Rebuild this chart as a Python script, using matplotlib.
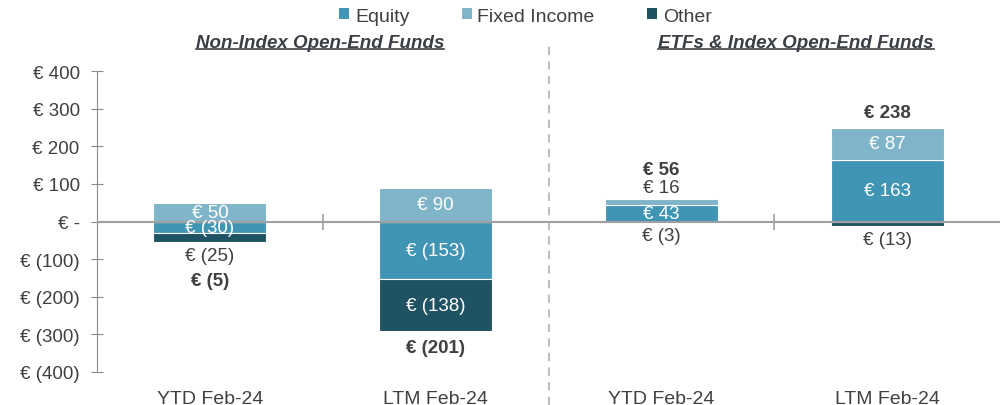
import numpy as np
import matplotlib
matplotlib.use("Agg")
import matplotlib.pyplot as plt
from matplotlib.patches import Patch
from matplotlib.lines import Line2D
import matplotlib.transforms as mtransforms

plt.rcParams['font.family'] = ['Liberation Sans', 'DejaVu Sans']

categories = ["YTD Feb-24", "LTM Feb-24", "YTD Feb-24", "LTM Feb-24"]
groups = ["Non-Index Open-End Funds", "ETFs & Index Open-End Funds"]
equity = [-30, -153, 43, 163]
fixed_income = [50, 90, 16, 87]
other = [-25, -138, -3, -13]
totals = [-5, -201, 56, 238]
yticks = [-400, -300, -200, -100, 0, 100, 200, 300, 400]

series = [("Equity", equity, "#4095B4"),
          ("Fixed Income", fixed_income, "#7FB4C9"),
          ("Other", other, "#1F5262")]

TXT = "#404040"
LBL = 13.5


def eur(v):
    if v == 0:
        return "€ -"
    if v < 0:
        return f"€ ({-v:,.0f})"
    return f"€ {v:,.0f}"


fig = plt.figure(figsize=(10, 4.06), dpi=100)
ax = fig.add_axes([0.097, 0.0813, 0.903, 0.741])

x = np.arange(len(categories))
pos_base = np.zeros(len(categories))
neg_base = np.zeros(len(categories))
has_out_top = [False] * len(categories)
has_out_bot = [False] * len(categories)
outside = []

for name, vals, col in series:
    vals = np.array(vals, dtype=float)
    base = np.where(vals >= 0, pos_base, neg_base)
    ax.bar(x, vals, 0.5, bottom=base, color=col, edgecolor="white",
           linewidth=0.8, zorder=2, label=name)
    for i, v in enumerate(vals):
        if abs(v) >= 30:
            ax.text(x[i], base[i] + v / 2, eur(v), ha="center", va="center",
                    color="white", fontsize=LBL, zorder=4)
        else:
            outside.append((i, v))
    pos_base = pos_base + np.where(vals >= 0, vals, 0)
    neg_base = neg_base + np.where(vals < 0, vals, 0)

# small segments get their label just outside the bar
for i, v in outside:
    if v >= 0:
        ax.annotate(eur(v), (x[i], pos_base[i]), xytext=(0, 8.5),
                    textcoords="offset points", ha="center", va="center",
                    color=TXT, fontsize=LBL)
        has_out_top[i] = True
    else:
        ax.annotate(eur(v), (x[i], neg_base[i]), xytext=(0, -9.5),
                    textcoords="offset points", ha="center", va="center",
                    color=TXT, fontsize=LBL)
        has_out_bot[i] = True

for i, t in enumerate(totals):
    if t >= 0:
        off = 21.5 if has_out_top[i] else 11
        ax.annotate(eur(t), (x[i], pos_base[i]), xytext=(0, off),
                    textcoords="offset points", ha="center", va="center",
                    color=TXT, fontsize=LBL, fontweight="bold")
    else:
        off = -27.5 if has_out_bot[i] else -12
        ax.annotate(eur(t), (x[i], neg_base[i]), xytext=(0, off),
                    textcoords="offset points", ha="center", va="center",
                    color=TXT, fontsize=LBL, fontweight="bold")

ax.set_xlim(-0.5, len(categories) - 0.5)
ax.set_ylim(-400, 400)
ax.set_yticks(yticks)
ax.set_yticklabels([eur(v) for v in yticks])
ax.set_xticks(x)
ax.set_xticklabels(categories)

for s in ["top", "right", "bottom"]:
    ax.spines[s].set_visible(False)
ax.spines["left"].set_color("#8C8C8C")
ax.tick_params(axis="y", direction="inout", length=9, color="#8C8C8C",
               labelsize=13.5, labelcolor=TXT, pad=8)
ax.tick_params(axis="x", length=0, labelsize=14, labelcolor=TXT, pad=13)

# zero line with category separators
ax.axhline(0, color="#A0A0A0", linewidth=1.5, zorder=3)
seps = [0.5, 2.5]
ax.plot(seps, [0] * len(seps), linestyle="none", marker="|", markersize=12,
        color="#A0A0A0", markeredgewidth=1.2, zorder=3)

# dashed group divider
trans = mtransforms.blended_transform_factory(ax.transData, fig.transFigure)
ax.add_line(Line2D([1.5, 1.5], [0, 0.89], transform=trans, color="#BFBFBF",
                   linestyle=(0, (4, 3)), linewidth=1.5, clip_on=False))

# group headers
hdrs = []
for gx, g in zip([0.32, 0.796], groups):
    hdrs.append(fig.text(gx, 0.894, g, ha="center", va="center", fontsize=13.5,
                         fontweight="bold", fontstyle="italic", color="#3A3F45"))

handles = [Patch(facecolor=c, label=n) for n, _, c in series]
fig.legend(handles=handles, loc="center", bbox_to_anchor=(0.5255, 0.958),
           ncol=3, frameon=False, fontsize=14, handlelength=0.5,
           handleheight=0.5, handletextpad=0.3, columnspacing=2.7,
           labelcolor=TXT, borderpad=0)

# underline headers
fig.canvas.draw()
r = fig.canvas.get_renderer()
for h in hdrs:
    bb = h.get_window_extent(r).transformed(fig.transFigure.inverted())
    fig.add_artist(Line2D([bb.x0, bb.x1], [bb.y0 + 0.004, bb.y0 + 0.004],
                          transform=fig.transFigure, color="#3A3F45",
                          linewidth=1.2))

fig.savefig("out.png", dpi=100)
